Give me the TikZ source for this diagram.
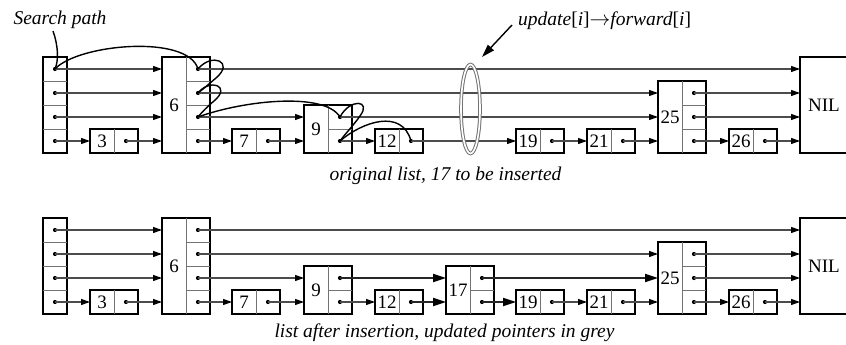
\documentclass[tikz,border=0pt]{standalone}
\usepackage{fontspec}
\setmainfont{Liberation Serif}
\usetikzlibrary{arrows.meta,shapes.geometric}

\tikzset{
  box/.style={draw=black, line width=1.9pt, inner sep=0pt, outer sep=0pt},
  div/.style={draw=black!55, line width=0.9pt},
  key/.style={font=\fontsize{19}{19}\selectfont, inner sep=0pt},
  ital/.style={font=\fontsize{19.5}{20}\selectfont\itshape, inner sep=0pt},
  ptr/.style={draw=black!70, line width=1.1pt, -{Triangle[length=9pt,width=6pt,color=black]}},
  newptr/.style={draw=black!85, line width=1.9pt, -{Triangle[length=13pt,width=8pt,color=black]}},
  searchline/.style={draw=black, line width=1.4pt},
  callout/.style={draw=black, line width=1.4pt, -{Triangle[length=13pt,width=8pt]}},
}

% skip-list node: name, left x, bottom y, number of levels, key
\newcommand\skipnode[5]{%
  \node[box, minimum width=48pt, minimum height={24pt*#4}, anchor=south west] (#1) at (#2,#3) {};
  \draw[div] ([xshift=24pt]#1.south west) -- ([xshift=24pt]#1.north west);
  \node[key] (#1-key) at ([xshift=12pt]#1.west) {#5};
  \pgfmathtruncatemacro\lvlm{#4-1}%
  \ifnum\lvlm>0
    \foreach \k in {1,...,\lvlm}{\draw[div] ([xshift=24pt,yshift={24pt*\k}]#1.south west) -- ([yshift={24pt*\k}]#1.south east);}
  \fi
  \foreach \k in {1,...,#4}{%
    \coordinate (#1-\k) at ([xshift=36pt,yshift={24pt*\k-12pt}]#1.south west);
    \fill (#1-\k) circle (2.1pt);}
}

% header node with four forward pointers: name, left x, bottom y
\newcommand\headnode[3]{%
  \node[box, minimum width=24pt, minimum height=96pt, anchor=south west] (#1) at (#2,#3) {};
  \foreach \k in {1,2,3}{\draw[div] ([yshift={24pt*\k}]#1.south west) -- ([yshift={24pt*\k}]#1.south east);}
  \foreach \k in {1,...,4}{%
    \coordinate (#1-\k) at ([xshift=12pt,yshift={24pt*\k-12pt}]#1.south west);
    \fill (#1-\k) circle (2.1pt);}
}

\begin{document}
\begin{tikzpicture}[x=1pt,y=-1pt]
\path[use as bounding box] (0,0) rectangle (846,345);
\clip (0,0) rectangle (846,345);
\fill[white] (0,0) rectangle (846,345);

% ---------- original list ----------
\headnode{th}{43}{153}
\skipnode{t3}{90}{153}{1}{3}
\skipnode{t6}{162}{153}{4}{6}
\skipnode{t7}{232}{153}{1}{7}
\skipnode{t9}{304}{153}{2}{9}
\skipnode{t12}{375}{153}{1}{12}
\skipnode{t19}{516}{153}{1}{19}
\skipnode{t21}{587}{153}{1}{21}
\skipnode{t25}{658}{153}{3}{25}
\skipnode{t26}{729}{153}{1}{26}
\node[box, minimum width=60pt, minimum height=96pt, anchor=south west] (tnil) at (800,153) {};
\node[key] (tniltxt) at (824,105) {NIL};

\draw[ptr] (th-4) -- (t6.west |- th-4);
\draw[ptr] (th-3) -- (t6.west |- th-3);
\draw[ptr] (th-2) -- (t6.west |- th-2);
\draw[ptr] (th-1) -- (t3.west |- th-1);
\draw[ptr] (t3-1) -- (t6.west |- t3-1);
\draw[ptr] (t6-4) -- (tnil.west |- t6-4);
\draw[ptr] (t6-3) -- (t25.west |- t6-3);
\draw[ptr] (t6-2) -- (t9.west |- t6-2);
\draw[ptr] (t6-1) -- (t7.west |- t6-1);
\draw[ptr] (t7-1) -- (t9.west |- t7-1);
\draw[ptr] (t9-2) -- (t25.west |- t9-2);
\draw[ptr] (t9-1) -- (t12.west |- t9-1);
\draw[ptr] (t12-1) -- (t19.west |- t12-1);
\draw[ptr] (t19-1) -- (t21.west |- t19-1);
\draw[ptr] (t21-1) -- (t25.west |- t21-1);
\draw[ptr] (t25-3) -- (tnil.west |- t25-3);
\draw[ptr] (t25-2) -- (tnil.west |- t25-2);
\draw[ptr] (t25-1) -- (t26.west |- t25-1);
\draw[ptr] (t26-1) -- (tnil.west |- t26-1);

% search path
\node[ital, anchor=base] (searchlbl) at (60,25) {Search path};
\coordinate (spstart) at (53,31);
\draw[searchline] (spstart) .. controls (58,45) and (59,60) .. (th-4);
\draw[searchline] (th-4) .. controls (78,44) and (188,34) .. (t6-4);
\draw[searchline] (t6-4) .. controls (212,52) and (235,62) .. (216,78)
                         .. controls (209,84) and (202,90) .. (t6-3);
\draw[searchline] (t6-3) .. controls (210,78) and (232,86) .. (214,101)
                         .. controls (208,106) and (202,112) .. (t6-2);
\draw[searchline] (t6-2) .. controls (245,100) and (325,92) .. (t9-2);
\draw[searchline] (t9-2) .. controls (350,98) and (372,100) .. (360,116)
                         .. controls (353,126) and (345,134) .. (t9-1);
\draw[searchline] (t9-1) .. controls (362,122) and (402,108) .. (t12-1);

% update vector
\node[ellipse, draw=black!55, line width=1pt, double=white, double distance=1.6pt,
      minimum width=19pt, minimum height=89pt, inner sep=0pt] (upd) at (470.5,109) {};
\node[ital, anchor=base west] (updtxt) at (518,26) {update\textup{[}i\textup{]}$\rightarrow$forward\textup{[}i\textup{]}};
\coordinate (callstart) at (512,25);
\coordinate (calltip) at (482,57);
\draw[callout] (callstart) -- (calltip);

\node[ital, anchor=base] (cap1) at (445.5,180) {original list, 17 to be inserted};

% ---------- list after insertion ----------
\headnode{bh}{43}{314}
\skipnode{b3}{90}{314}{1}{3}
\skipnode{b6}{162}{314}{4}{6}
\skipnode{b7}{232}{314}{1}{7}
\skipnode{b9}{304}{314}{2}{9}
\skipnode{b12}{375}{314}{1}{12}
\skipnode{b17}{446}{314}{2}{17}
\skipnode{b19}{516}{314}{1}{19}
\skipnode{b21}{587}{314}{1}{21}
\skipnode{b25}{658}{314}{3}{25}
\skipnode{b26}{729}{314}{1}{26}
\node[box, minimum width=60pt, minimum height=96pt, anchor=south west] (bnil) at (800,314) {};
\node[key] (bniltxt) at (824,266) {NIL};

\draw[ptr] (bh-4) -- (b6.west |- bh-4);
\draw[ptr] (bh-3) -- (b6.west |- bh-3);
\draw[ptr] (bh-2) -- (b6.west |- bh-2);
\draw[ptr] (bh-1) -- (b3.west |- bh-1);
\draw[ptr] (b3-1) -- (b6.west |- b3-1);
\draw[ptr] (b6-4) -- (bnil.west |- b6-4);
\draw[ptr] (b6-3) -- (b25.west |- b6-3);
\draw[ptr] (b6-2) -- (b9.west |- b6-2);
\draw[ptr] (b6-1) -- (b7.west |- b6-1);
\draw[ptr] (b7-1) -- (b9.west |- b7-1);
\draw[newptr] (b9-2) -- (b17.west |- b9-2);
\draw[ptr] (b9-1) -- (b12.west |- b9-1);
\draw[newptr] (b12-1) -- (b17.west |- b12-1);
\draw[newptr] (b17-2) -- (b25.west |- b17-2);
\draw[newptr] (b17-1) -- (b19.west |- b17-1);
\draw[ptr] (b19-1) -- (b21.west |- b19-1);
\draw[ptr] (b21-1) -- (b25.west |- b21-1);
\draw[ptr] (b25-3) -- (bnil.west |- b25-3);
\draw[ptr] (b25-2) -- (bnil.west |- b25-2);
\draw[ptr] (b25-1) -- (b26.west |- b25-1);
\draw[ptr] (b26-1) -- (bnil.west |- b26-1);

\node[ital, anchor=base] (cap2) at (444.5,337) {list after insertion, updated pointers in grey};
\end{tikzpicture}
\end{document}
